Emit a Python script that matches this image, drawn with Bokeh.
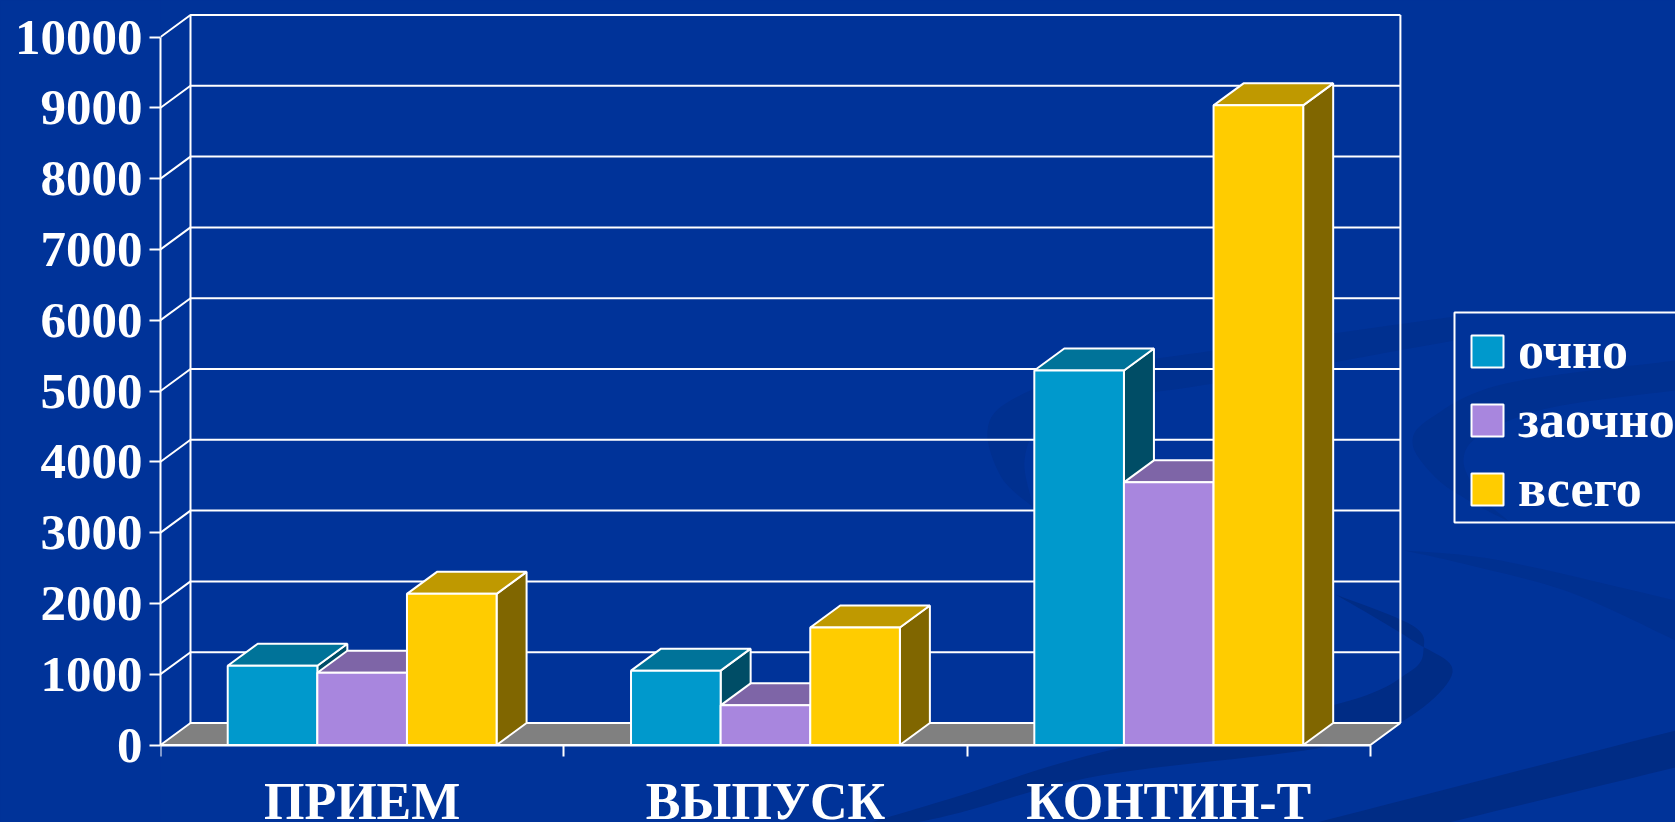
from bokeh.plotting import figure
from bokeh.embed import file_html
from bokeh.resources import INLINE
from bokeh.models import Legend, LegendItem, LinearAxis, FixedTicker, Range1d, PolyAnnotation, BoxAnnotation

categories = ["ПРИЕМ", "ВЫПУСК", "КОНТИН-Т"]
series_names = ["очно", "заочно", "всего"]
ochno = [1120, 1050, 5290]
zaochno = [1020, 560, 3710]
vsego = [2135, 1660, 9035]
y_ticks = [0, 1000, 2000, 3000, 4000, 5000, 6000, 7000, 8000, 9000, 10000]

front_colors = ["#0099CC", "#A886DE", "#FFCC00"]
top_colors = ["#007399", "#7E65A7", "#BF9900"]
side_colors = ["#004D66", "#544370", "#806600"]
BG = "#003399"
DARK = "#002C85"
FAINT = "#003090"
FONT = "Liberation Serif"

W, H = 1675, 822
L, B = 160, 744.5        # frame left and the zero line, page pixels
PX_CAT = 403.3
PX_1000 = 70.8
DX = 30 / PX_CAT
DY = 22 / PX_1000 * 1000
BAR = 1 / 4.5
GAP = (1 - 3 * BAR) / 2

p = figure(width=W, height=H, output_backend="svg", toolbar_location=None,
           x_axis_type=None, y_axis_type=None,
           min_border_left=L, min_border_right=0, min_border_top=0, min_border_bottom=0,
           outline_line_color=None, background_fill_color=BG, border_fill_color=BG)
p.styles = {"background-color": BG}
p.x_range = Range1d(0, (W - L) / PX_CAT)
p.y_range = Range1d(-(H - B) / PX_1000 * 1000, B / PX_1000 * 1000)
p.grid.visible = False


def to_x(px):
    return (px - L) / PX_CAT


def to_y(py):
    return (B - py) / PX_1000 * 1000


def smooth(points, n=12):
    """Catmull-Rom path through decoration control points (page pixels)."""
    out = []
    pts = [points[0]] + list(points) + [points[-1]]
    for i in range(1, len(pts) - 2):
        p0, p1, p2, p3 = pts[i - 1], pts[i], pts[i + 1], pts[i + 2]
        for k in range(n):
            t = k / n
            out.append(tuple(0.5 * (2 * p1[a] + (p2[a] - p0[a]) * t
                                    + (2 * p0[a] - 5 * p1[a] + 4 * p2[a] - p3[a]) * t * t
                                    + (3 * p1[a] - p0[a] - 3 * p2[a] + p3[a]) * t * t * t)
                             for a in (0, 1)))
    out.append(points[-1])
    return out


def swoosh(outer, inner, color=DARK):
    pts = smooth(outer) + smooth(inner)[::-1]
    p.add_layout(PolyAnnotation(xs=[to_x(a) for a, b in pts], ys=[to_y(b) for a, b in pts],
                                fill_color=color, fill_alpha=1, line_color=None, level="underlay"))


# slide background decoration
swoosh([(1454, 316), (1213, 350), (1089, 370), (1010, 400), (987, 430), (1001, 477), (1033, 507)],
       [(1454, 340), (1213, 383), (1100, 400), (1042, 423), (1024, 460), (1033, 507)], FAINT)
swoosh([(1675, 360), (1505, 383), (1431, 417), (1412, 443), (1435, 477), (1468, 500), (1510, 522)],
       [(1675, 390), (1551, 407), (1482, 433), (1463, 460), (1480, 495), (1510, 522)], FAINT)
swoosh([(1335, 594), (1412, 640), (1452, 672), (1400, 722), (1316, 748), (1100, 775), (960, 812), (915, 822)],
       [(1335, 594), (1412, 625), (1423, 649), (1408, 672), (1335, 704), (1100, 752), (960, 795), (870, 822)])
swoosh([(1316, 822), (1675, 730)], [(1448, 822), (1675, 767)])
swoosh([(1404, 550), (1500, 560), (1675, 600)], [(1404, 550), (1470, 565), (1570, 592), (1675, 640)], FAINT)

# axes
yax = LinearAxis(ticker=FixedTicker(ticks=y_ticks), bounds=(0, 10000))
yax.major_label_text_font = FONT
yax.major_label_text_font_style = "bold"
yax.major_label_text_font_size = "51px"
yax.major_label_text_color = "white"
yax.major_label_standoff = 7
yax.axis_line_color = "white"; yax.axis_line_width = 2
yax.major_tick_line_color = "white"; yax.major_tick_line_width = 2
yax.major_tick_out = 11; yax.major_tick_in = 0
yax.minor_tick_line_color = None
p.add_layout(yax, "left")

xax = LinearAxis(ticker=FixedTicker(ticks=[0, 1, 2, 3]), bounds=(0, 3), fixed_location=0,
                 major_label_overrides={0: "", 1: "", 2: "", 3: ""})
xax.major_label_text_font_size = "0px"
xax.major_label_text_color = None
xax.axis_line_color = "white"; xax.axis_line_width = 2
xax.major_tick_line_color = "white"; xax.major_tick_line_width = 2
xax.major_tick_out = 11; xax.major_tick_in = 0
xax.minor_tick_line_color = None
p.add_layout(xax, "below")

xlab = LinearAxis(ticker=FixedTicker(ticks=[0.5, 1.5, 2.5]), bounds=(0, 3), fixed_location=0,
                  major_label_overrides={i + 0.5: c for i, c in enumerate(categories)})
xlab.axis_line_color = None
xlab.major_tick_line_color = None
xlab.minor_tick_line_color = None
xlab.major_label_text_font = FONT
xlab.major_label_text_font_style = "bold"
xlab.major_label_text_font_size = "52px"
xlab.major_label_text_color = "white"
xlab.major_label_standoff = 22
p.add_layout(xlab, "below")

# floor and wall
p.patch([0, DX, 3 + DX, 3], [0, DY, DY, 0], fill_color="#808080", line_color="white", line_width=2)
p.multi_line([[0, DX, 3 + DX] for v in y_ticks[1:]],
             [[v, v + DY, v + DY] for v in y_ticks[1:]], line_color="white", line_width=2)
p.multi_line([[DX, DX], [3 + DX, 3 + DX]], [[DY, 10000 + DY], [DY, 10000 + DY]],
             line_color="white", line_width=2)

# bars
items = []
for s, vals in enumerate([ochno, zaochno, vsego]):
    lefts = [g + GAP + s * BAR for g in range(3)]
    rights = [l + BAR for l in lefts]
    p.patches([[r, r + DX, r + DX, r] for r in rights],
              [[0, DY, v + DY, v] for v in vals],
              fill_color=side_colors[s], line_color="white", line_width=2)
    p.patches([[l, l + DX, r + DX, r] for l, r in zip(lefts, rights)],
              [[v, v + DY, v + DY, v] for v in vals],
              fill_color=top_colors[s], line_color="white", line_width=2)
    front = p.vbar(x=[(l + r) / 2 for l, r in zip(lefts, rights)], width=BAR, top=vals, bottom=0,
                   fill_color=front_colors[s], line_color="white", line_width=2)
    items.append(LegendItem(label=series_names[s], renderers=[front]))

p.add_layout(BoxAnnotation(left=to_x(1454), right=to_x(1700), top=to_y(312), bottom=to_y(522),
                           fill_alpha=0, line_color="white", line_width=2, line_alpha=1))

legend = Legend(items=items, location=(1467 - L, H - 518),
                background_fill_alpha=0, border_line_color=None,
                label_text_font=FONT, label_text_font_style="bold",
                label_text_font_size="52px", label_text_color="white",
                glyph_width=40, glyph_height=40, label_standoff=11,
                padding=17, spacing=10, margin=0, label_height=33)
p.add_layout(legend, "center")

open("out.html", "w").write(file_html(p, INLINE))
